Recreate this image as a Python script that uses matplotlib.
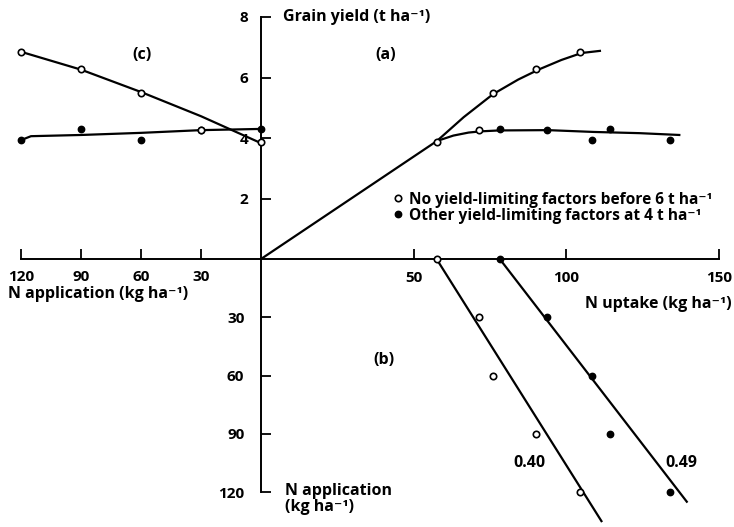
import matplotlib
matplotlib.use("Agg")
import numpy as np
import matplotlib.pyplot as plt
from matplotlib.lines import Line2D

plt.rcParams["font.family"] = ["Open Sans", "DejaVu Sans"]
plt.rcParams["font.weight"] = "bold"
plt.rcParams["font.size"] = 11.5

# N rates applied (kg/ha), shared by all three quadrants
n_rate = [0, 30, 60, 90, 120]

# open symbols: no yield-limiting factors before 6 t/ha
uptake_open = [57.5, 71.5, 76.0, 90.0, 104.5]
yield_open = [3.88, 4.26, 5.50, 6.27, 6.85]

# filled symbols: other yield-limiting factors at 4 t/ha
uptake_full = [78.2, 93.6, 108.5, 114.3, 134.0]
yield_full = [4.30, 4.26, 3.95, 4.30, 3.93]

# hand-drawn response curves, quadrant (a)
origin_u = [0, 57.6]
origin_y = [0, 3.90]
a_open_u = [57.6, 66.4, 76.0, 84.2, 91.1, 98.4, 105.0, 111.0]
a_open_y = [3.90, 4.69, 5.45, 5.93, 6.27, 6.58, 6.81, 6.88]
a_full_u = [57.6, 63.0, 68.0, 72.0, 78.0, 94.0, 109.0, 124.0, 137.0]
a_full_y = [3.90, 4.08, 4.18, 4.22, 4.25, 4.26, 4.20, 4.16, 4.10]

# quadrant (c)
c_open_n = [120, 90, 60, 30, 0]
c_open_y = [6.85, 6.26, 5.52, 4.72, 3.83]
c_full_n = [120, 115, 90, 60, 30, 0]
c_full_y = [3.93, 4.06, 4.10, 4.17, 4.26, 4.30]

# quadrant (b): recovery efficiency lines
recovery = [0.40, 0.49]
uptake_at_zero = [57.5, 78.2]
n_line_end = [135, 125]

W, H = 734, 527


def box(x0, y0, x1, y1):
    return [x0 / W, 1 - y1 / H, (x1 - x0) / W, (y1 - y0) / H]


fig = plt.figure(figsize=(W / 100, H / 100), dpi=100)
ax_a = fig.add_axes(box(261, 17, 719, 259))
ax_c = fig.add_axes(box(21, 17, 261, 259))
ax_b = fig.add_axes(box(261, 259, 719, 492))

for ax in (ax_a, ax_b, ax_c):
    ax.patch.set_visible(False)
    for s in ax.spines.values():
        s.set_visible(False)
        s.set_linewidth(1.4)

lw = 1.6
ms = 4.6
open_kw = dict(ls="none", marker="o", ms=ms, mfc="white", mec="black", mew=1.2, clip_on=False, zorder=5)
full_kw = dict(ls="none", marker="o", ms=ms, mfc="black", mec="black", mew=1.0, clip_on=False, zorder=5)
tick_kw = dict(direction="in", length=7, width=1.3, labelsize=11, colors="black")

# (a) grain yield vs N uptake
ax_a.set_xlim(0, 150)
ax_a.set_ylim(0, 8)
ax_a.spines["left"].set_visible(True)
ax_a.spines["bottom"].set_visible(True)
ax_a.set_xticks([50, 100, 150])
ax_a.set_yticks([2, 4, 6, 8])
ax_a.tick_params(axis="x", pad=9, **tick_kw)
ax_a.tick_params(axis="y", pad=9, **tick_kw)
ax_a.plot(origin_u, origin_y, color="black", lw=lw)
ax_a.plot(a_open_u, a_open_y, color="black", lw=lw)
ax_a.plot(a_full_u, a_full_y, color="black", lw=lw)
ax_a.plot(uptake_open, yield_open, **open_kw)
ax_a.plot(uptake_full, yield_full, **full_kw)
ax_a.text(0.048, 1.0, "Grain yield (t ha⁻¹)", transform=ax_a.transAxes, va="center", ha="left")
ax_a.text(1.028, -0.185, "N uptake (kg ha⁻¹)", transform=ax_a.transAxes, va="center", ha="right")
ax_a.text(40.8, 6.74, "(a)", ha="center", va="center")

handles = [Line2D([], [], **{k: v for k, v in open_kw.items() if k not in ("clip_on", "zorder")}),
           Line2D([], [], **{k: v for k, v in full_kw.items() if k not in ("clip_on", "zorder")})]
ax_a.legend(handles, ["No yield-limiting factors before 6 t ha⁻¹",
                      "Other yield-limiting factors at 4 t ha⁻¹"],
            loc="center left", bbox_to_anchor=(0.29, 0.212), frameon=False,
            handlelength=0.5, handletextpad=0.5, labelspacing=0.0,
            borderpad=0, borderaxespad=0, fontsize=11.2)

# (c) grain yield vs N application
ax_c.set_xlim(120, 0)
ax_c.set_ylim(0, 8)
ax_c.spines["bottom"].set_visible(True)
ax_c.set_xticks([120, 90, 60, 30])
ax_c.set_yticks([])
ax_c.tick_params(axis="x", pad=8, **tick_kw)
ax_c.plot(c_open_n, c_open_y, color="black", lw=lw)
ax_c.plot(c_full_n, c_full_y, color="black", lw=lw)
ax_c.plot(n_rate, yield_full, **full_kw)
ax_c.plot(n_rate, yield_open, **open_kw)
ax_c.text(-0.054, -0.145, "N application (kg ha⁻¹)", transform=ax_c.transAxes, va="center", ha="left")
ax_c.text(59.5, 6.74, "(c)", ha="center", va="center")

# (b) N uptake vs N application
ax_b.set_xlim(0, 150)
ax_b.set_ylim(120, 0)
ax_b.spines["left"].set_visible(True)
ax_b.set_xticks([])
ax_b.set_yticks([30, 60, 90, 120])
ax_b.tick_params(axis="y", pad=12, **tick_kw)
for eff, u0, n_end in zip(recovery, uptake_at_zero, n_line_end):
    n = np.array([0, n_end])
    ax_b.plot(u0 + eff * n, n, color="black", lw=lw, clip_on=False)
ax_b.plot(uptake_open, n_rate, **open_kw)
ax_b.plot(uptake_full, n_rate, **full_kw)
ax_b.text(87.8, 105, f"{recovery[0]:.2f}", ha="center", va="center")
ax_b.text(137.8, 105, f"{recovery[1]:.2f}", ha="center", va="center")
ax_b.text(40.1, 52, "(b)", ha="center", va="center")
ax_b.text(0.052, -0.03, "N application\n(kg ha⁻¹)", transform=ax_b.transAxes,
          va="center", ha="left", linespacing=1.0)

fig.savefig("out.png", dpi=100, facecolor="white")
